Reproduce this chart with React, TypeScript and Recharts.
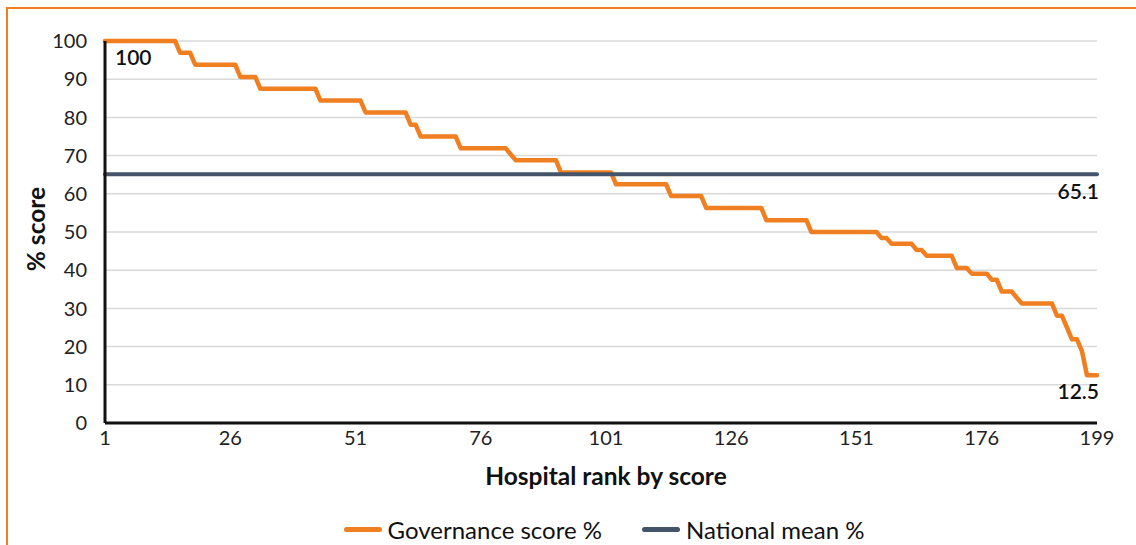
import {
  CartesianGrid,
  LabelList,
  Legend,
  Line,
  LineChart,
  XAxis,
  YAxis,
} from "recharts";

// governance score % per hospital, ordered by rank (1 = best)
const scores = [
  100, 100, 100, 100, 100, 100, 100, 100, 100, 100,
  100, 100, 100, 100, 100, 96.9, 96.9, 96.9, 93.8, 93.8,
  93.8, 93.8, 93.8, 93.8, 93.8, 93.8, 93.8, 90.6, 90.6, 90.6,
  90.6, 87.5, 87.5, 87.5, 87.5, 87.5, 87.5, 87.5, 87.5, 87.5,
  87.5, 87.5, 87.5, 84.4, 84.4, 84.4, 84.4, 84.4, 84.4, 84.4,
  84.4, 84.4, 81.3, 81.3, 81.3, 81.3, 81.3, 81.3, 81.3, 81.3,
  81.3, 78.1, 78.1, 75, 75, 75, 75, 75, 75, 75,
  75, 71.9, 71.9, 71.9, 71.9, 71.9, 71.9, 71.9, 71.9, 71.9,
  71.9, 70.3, 68.8, 68.8, 68.8, 68.8, 68.8, 68.8, 68.8, 68.8,
  68.8, 65.6, 65.6, 65.6, 65.6, 65.6, 65.6, 65.6, 65.6, 65.6,
  65.6, 65.6, 62.5, 62.5, 62.5, 62.5, 62.5, 62.5, 62.5, 62.5,
  62.5, 62.5, 62.5, 59.4, 59.4, 59.4, 59.4, 59.4, 59.4, 59.4,
  56.3, 56.3, 56.3, 56.3, 56.3, 56.3, 56.3, 56.3, 56.3, 56.3,
  56.3, 56.3, 53.1, 53.1, 53.1, 53.1, 53.1, 53.1, 53.1, 53.1,
  53.1, 50, 50, 50, 50, 50, 50, 50, 50, 50,
  50, 50, 50, 50, 50, 48.4, 48.4, 46.9, 46.9, 46.9,
  46.9, 46.9, 45.3, 45.3, 43.8, 43.8, 43.8, 43.8, 43.8, 43.8,
  40.6, 40.6, 40.6, 39.1, 39.1, 39.1, 39.1, 37.5, 37.5, 34.4,
  34.4, 34.4, 32.8, 31.3, 31.3, 31.3, 31.3, 31.3, 31.3, 31.3,
  28.1, 28.1, 25, 21.9, 21.9, 18.8, 12.5, 12.5, 12.5,
];

const nationalMean = 65.1;

const xTicks = [1, 26, 51, 76, 101, 126, 151, 176, 199];
const yTicks = [0, 10, 20, 30, 40, 50, 60, 70, 80, 90, 100];

const data = scores.map((score, i) => ({
  rank: i + 1,
  score,
  mean: nationalMean,
}));

const ORANGE = "#F07F22";
const SLATE = "#44546A";
const FONT = "Lato, 'Open Sans', sans-serif";
const last = data.length - 1;

const scoreLabel = (props: any) => {
  const { x, y, index, value } = props;
  if (index === 0) {
    return (
      <text x={x + 10} y={y + 24} fontSize={21} fontWeight={600} fill="#111" fontFamily={FONT}>
        {value}
      </text>
    );
  }
  if (index === last) {
    return (
      <text x={x + 2} y={y + 24} textAnchor="end" fontSize={21} fontWeight={600} fill="#111" fontFamily={FONT}>
        {value}
      </text>
    );
  }
  return null;
};

const meanLabel = (props: any) => {
  const { x, y, index, value } = props;
  if (index !== last) return null;
  return (
    <text x={x + 2} y={y + 25} textAnchor="end" fontSize={21} fontWeight={600} fill="#111" fontFamily={FONT}>
      {value}
    </text>
  );
};

const renderLegend = (props: any) => {
  const { payload } = props;
  return (
    <div
      style={{
        display: "flex",
        justifyContent: "center",
        alignItems: "center",
        height: 30,
        marginLeft: 72,
        fontFamily: FONT,
        fontSize: 24,
        color: "#111",
      }}
    >
      {(payload || []).map((entry: any, i: number) => (
        <div key={`legend-${i}`} style={{ display: "flex", alignItems: "center", marginLeft: i ? 40 : 0 }}>
          <span
            style={{
              display: "inline-block",
              width: 38,
              height: 5,
              borderRadius: 3,
              background: entry.color,
              marginRight: 6,
            }}
          />
          {entry.value}
        </div>
      ))}
    </div>
  );
};

export default function App() {
  return (
    <div
      style={{
        position: "absolute",
        left: 0,
        top: 0,
        width: 1136,
        height: 545,
        overflow: "hidden",
        background: "#fff",
      }}
    >
      <div
        style={{
          position: "absolute",
          left: 6,
          top: 7,
          width: 1200,
          height: 600,
          border: `2px solid ${ORANGE}`,
        }}
      />
      <LineChart
        width={1136}
        height={545}
        data={data}
        margin={{ top: 41, right: 39, left: 40, bottom: 1 }}
        style={{ position: "absolute", left: 0, top: 0 }}
      >
        <CartesianGrid vertical={false} stroke="#d9d9d9" strokeWidth={1.5} />
        <XAxis
          dataKey="rank"
          type="number"
          domain={[1, 199]}
          ticks={xTicks}
          interval={0}
          height={91}
          tickLine={false}
          tickSize={6}
          tickMargin={2}
          axisLine={{ stroke: "#111", strokeWidth: 3 }}
          tick={{ fontSize: 20, fill: "#222", fontFamily: FONT }}
          label={{
            value: "Hospital rank by score",
            position: "insideTop",
            offset: 45,
            dx: 5,
            fontSize: 24.5,
            fontWeight: 700,
            fill: "#111",
            fontFamily: FONT,
          }}
        />
        <YAxis
          domain={[0, 100]}
          ticks={yTicks}
          interval={0}
          width={65}
          tickLine={false}
          tickSize={6}
          tickMargin={12}
          axisLine={{ stroke: "#111", strokeWidth: 3 }}
          tick={{ fontSize: 20, fill: "#222", fontFamily: FONT }}
          label={{
            value: "% score",
            angle: -90,
            position: "insideLeft",
            offset: -4,
            dy: -3,
            textAnchor: "middle",
            fontSize: 24.5,
            fontWeight: 700,
            fill: "#111",
            fontFamily: FONT,
          }}
        />
        <Legend
          verticalAlign="bottom"
          wrapperStyle={{ left: 0, width: 1136 }}
          content={renderLegend}
        />
        <Line
          name="Governance score %"
          dataKey="score"
          type="linear"
          stroke={ORANGE}
          strokeWidth={4.5}
          strokeLinecap="round"
          strokeLinejoin="round"
          dot={false}
          activeDot={false}
          isAnimationActive={false}
        >
          <LabelList dataKey="score" content={scoreLabel} />
        </Line>
        <Line
          name="National mean %"
          dataKey="mean"
          type="linear"
          stroke={SLATE}
          strokeWidth={4}
          strokeLinecap="round"
          dot={false}
          activeDot={false}
          isAnimationActive={false}
        >
          <LabelList dataKey="mean" content={meanLabel} />
        </Line>
      </LineChart>
    </div>
  );
}
